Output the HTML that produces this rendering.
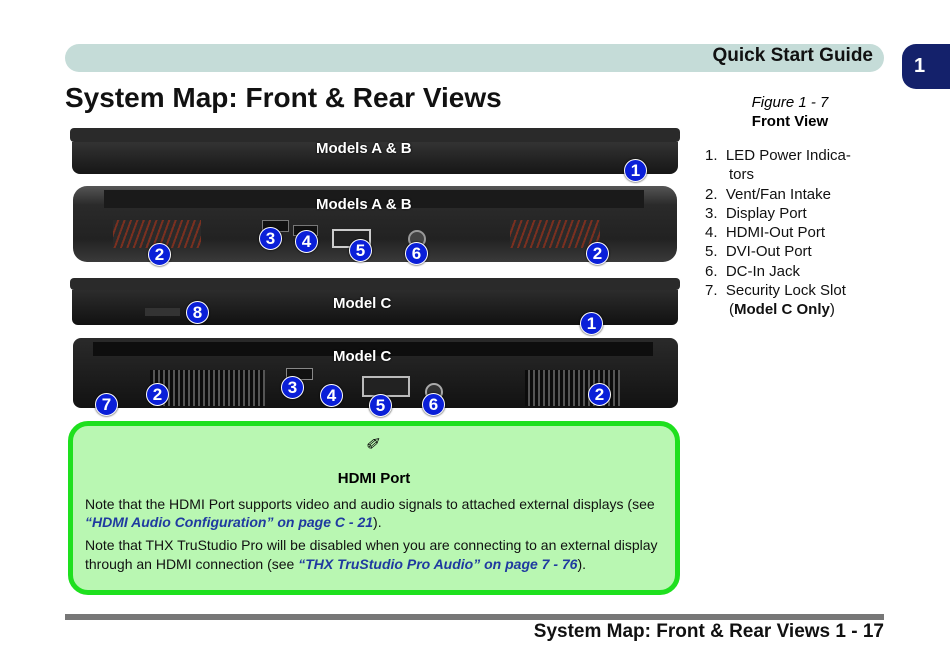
<!DOCTYPE html>
<html><head><meta charset="utf-8"><style>
body{margin:0;width:950px;height:669px;background:#fff;position:relative;overflow:hidden;font-family:"Liberation Sans",sans-serif}
.a{position:absolute}
.b{position:absolute;width:21px;height:21px;border-radius:50%;background:#0a1fd8;color:#fff;font-weight:bold;font-size:17px;text-align:center;line-height:21px;border:1px solid #fff;box-shadow:0 0 2px #000}
.lab{position:absolute;color:#fff;font-weight:bold;font-size:15px;text-shadow:0 0 2px #000}
.vent{background:repeating-linear-gradient(110deg,#2a2a2a 0 4px,#7a3020 4px 6px)}
.ventg{background:repeating-linear-gradient(90deg,#0c0c0c 0 3px,#555 3px 5px)}
</style></head><body>
<div class="a" style="left:65px;top:44px;width:819px;height:28px;background:#c5dcd8;border-radius:14px"></div>
<div class="a" style="left:600px;top:45px;width:273px;text-align:right;font-size:19px;font-weight:bold;color:#111">Quick Start Guide</div>
<div class="a" style="left:902px;top:44px;width:48px;height:45px;background:#14216b;border-radius:14px 0 0 14px;color:#fff;font-weight:bold;font-size:20px;line-height:45px;padding-left:12px;box-sizing:border-box">1</div>
<div class="a" style="left:65px;top:82px;font-size:28px;font-weight:bold;color:#111">System Map: Front &amp; Rear Views</div>

<div class="a" style="left:700px;top:94px;width:180px;text-align:center;font-size:15px;font-style:italic">Figure 1 - 7</div>
<div class="a" style="left:700px;top:113px;width:180px;text-align:center;font-size:15px;font-weight:bold">Front View</div>
<div class="a" style="left:705px;top:146px;font-size:15px;line-height:19.3px;color:#111">
<div>1.&nbsp; LED Power Indica-</div><div style="padding-left:24px">tors</div>
<div>2.&nbsp; Vent/Fan Intake</div><div>3.&nbsp; Display Port</div><div>4.&nbsp; HDMI-Out Port</div><div>5.&nbsp; DVI-Out Port</div><div>6.&nbsp; DC-In Jack</div><div>7.&nbsp; Security Lock Slot</div><div style="padding-left:24px">(<b>Model C Only</b>)</div>
</div>

<!-- strip 1 -->
<div class="a" style="left:70px;top:128px;width:610px;height:14px;background:#2a2a2a;border-radius:4px"></div>
<div class="a" style="left:72px;top:142px;width:606px;height:32px;background:linear-gradient(#333,#161616);border-radius:0 0 8px 8px"></div>
<div class="lab" style="left:316px;top:140px">Models A &amp; B</div>
<!-- strip 2 -->
<div class="a" style="left:73px;top:186px;width:604px;height:76px;background:linear-gradient(#555,#2a2a2a 25%,#222 70%,#3a3a3a);border-radius:14px"></div>
<div class="a" style="left:104px;top:190px;width:540px;height:18px;background:#1a1a1a"></div>
<div class="a vent" style="left:113px;top:220px;width:88px;height:28px"></div>
<div class="a vent" style="left:510px;top:220px;width:90px;height:28px"></div>
<div class="a" style="left:262px;top:220px;width:25px;height:10px;background:#111;border:1px solid #777"></div>
<div class="a" style="left:293px;top:225px;width:23px;height:9px;background:#111;border:1px solid #777"></div>
<div class="a" style="left:332px;top:229px;width:35px;height:15px;background:#222;border:2px solid #ccc"></div>
<div class="a" style="left:408px;top:230px;width:14px;height:14px;border-radius:50%;background:#444;border:2px solid #999"></div>
<div class="lab" style="left:316px;top:196px">Models A &amp; B</div>
<!-- strip 3 -->
<div class="a" style="left:70px;top:278px;width:610px;height:12px;background:#2a2a2a;border-radius:4px"></div>
<div class="a" style="left:72px;top:290px;width:606px;height:35px;background:linear-gradient(#2c2c2c,#111);border-radius:0 0 6px 6px"></div>
<div class="a" style="left:145px;top:308px;width:35px;height:8px;background:#333"></div>
<div class="lab" style="left:333px;top:295px">Model C</div>
<!-- strip 4 -->
<div class="a" style="left:73px;top:338px;width:605px;height:70px;background:linear-gradient(#2a2a2a,#121212);border-radius:8px"></div>
<div class="a" style="left:93px;top:342px;width:560px;height:14px;background:#0e0e0e"></div>
<div class="a ventg" style="left:150px;top:370px;width:115px;height:36px"></div>
<div class="a ventg" style="left:525px;top:370px;width:95px;height:36px"></div>
<div class="a" style="left:286px;top:368px;width:25px;height:10px;background:#111;border:1px solid #888"></div>
<div class="a" style="left:362px;top:376px;width:44px;height:17px;background:#222;border:2px solid #bbb"></div>
<div class="a" style="left:425px;top:383px;width:14px;height:14px;border-radius:50%;background:#333;border:2px solid #aaa"></div>
<div class="lab" style="left:333px;top:348px">Model C</div>

<div class="b" style="left:624px;top:159px">1</div>
<div class="b" style="left:148px;top:243px">2</div>
<div class="b" style="left:259px;top:227px">3</div>
<div class="b" style="left:295px;top:230px">4</div>
<div class="b" style="left:349px;top:239px">5</div>
<div class="b" style="left:405px;top:242px">6</div>
<div class="b" style="left:586px;top:242px">2</div>
<div class="b" style="left:186px;top:301px">8</div>
<div class="b" style="left:580px;top:312px">1</div>
<div class="b" style="left:95px;top:393px">7</div>
<div class="b" style="left:146px;top:383px">2</div>
<div class="b" style="left:281px;top:376px">3</div>
<div class="b" style="left:320px;top:384px">4</div>
<div class="b" style="left:369px;top:394px">5</div>
<div class="b" style="left:422px;top:393px">6</div>
<div class="b" style="left:588px;top:383px">2</div>

<!-- note -->
<div class="a" style="left:68px;top:421px;width:602px;height:164px;border:5px solid #1ee01e;background:#b9f7b2;border-radius:20px"></div>
<div class="a" style="left:367px;top:433px;font-size:18px;transform:rotate(-40deg)">&#9999;</div>
<div class="a" style="left:68px;top:470px;width:612px;text-align:center;font-size:15px;font-weight:bold">HDMI Port</div>
<div class="a" style="left:85px;top:496px;width:590px;font-size:14px;line-height:17.5px;color:#111">Note that the HDMI Port supports video and audio signals to attached external displays (see <b style="color:#1f3aa0"><i>“HDMI Audio Configuration” on page C - 21</i></b>).</div>
<div class="a" style="left:85px;top:536px;width:595px;font-size:14px;line-height:19px;color:#111">Note that THX TruStudio Pro will be disabled when you are connecting to an external display through an HDMI connection (see <b style="color:#1f3aa0"><i>“THX TruStudio Pro Audio” on page 7 - 76</i></b>).</div>

<div class="a" style="left:65px;top:614px;width:819px;height:6px;background:#777"></div>
<div class="a" style="left:400px;top:621px;width:484px;text-align:right;font-size:19px;font-weight:bold;color:#111">System Map: Front &amp; Rear Views 1 - 17</div>
</body></html>
